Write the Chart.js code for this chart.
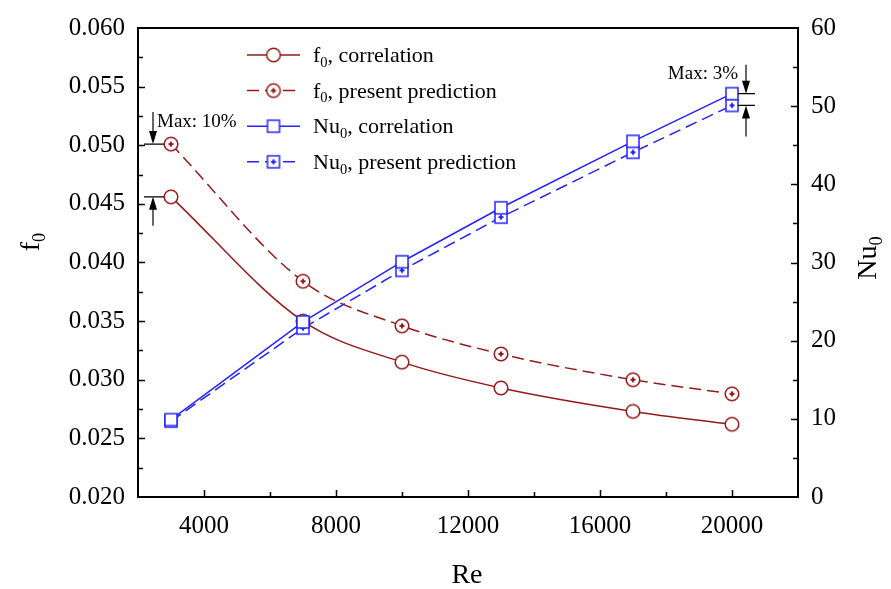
<!DOCTYPE html>
<html>
<head>
<meta charset="utf-8">
<script src="https://cdn.jsdelivr.net/npm/chart.js@4.4.1/dist/chart.umd.min.js"></script>
<style>
  html, body { margin: 0; padding: 0; background: #fff; }
  #wrap { width: 891px; height: 589px; }
</style>
</head>
<body>
<div id="wrap"><canvas id="chart" width="891" height="589"></canvas></div>
<script>
// Reynolds numbers of the test points
const reynolds = [3000, 7000, 10000, 13000, 17000, 20000];
// friction factor
const fCorrelation = [0.0456, 0.0350, 0.0315, 0.0293, 0.0273, 0.0262];
const fPrediction  = [0.0501, 0.0384, 0.0346, 0.0322, 0.0300, 0.0288];
// Nusselt number
const nuCorrelation = [9.9, 22.4, 30.1, 37.0, 45.5, 51.6];
const nuPrediction  = [9.7, 21.6, 29.0, 35.8, 44.1, 50.1];

// labelled ticks
const reTicks = [4000, 8000, 12000, 16000, 20000];
const fTicks  = [0.020, 0.025, 0.030, 0.035, 0.040, 0.045, 0.050, 0.055, 0.060];
const nuTicks = [0, 10, 20, 30, 40, 50, 60];

const RED = '#961a1a';
const BLUE = '#2424ff';
const SERIF = '"Liberation Serif", "Times New Roman", serif';

// point markers drawn once on small canvases
function makeMarker(shape, color, plus) {
  const c = document.createElement('canvas');
  c.width = 18; c.height = 18;
  const g = c.getContext('2d');
  g.strokeStyle = color;
  g.fillStyle = '#fff';
  g.lineWidth = 1.5;
  if (shape === 'circle') {
    g.beginPath(); g.arc(9, 9, 6.8, 0, Math.PI * 2); g.fill(); g.stroke();
  } else {
    g.fillRect(3, 3, 12, 12); g.strokeRect(3, 3, 12, 12);
  }
  if (plus) {
    g.fillStyle = color;
    g.fillRect(6.5, 8, 5, 2);
    g.fillRect(8, 6.5, 2, 5);
  }
  return c;
}
const mkFCorr = makeMarker('circle', RED, false);
const mkFPred = makeMarker('circle', RED, true);
const mkNuCorr = makeMarker('square', BLUE, false);
const mkNuPred = makeMarker('square', BLUE, true);

const toPoints = ys => reynolds.map((x, i) => ({ x: x, y: ys[i] }));

// text with a subscript part, e.g. [['f'], ['0', true], [', correlation']]
function richWidth(ctx, parts, size) {
  let w = 0;
  parts.forEach(p => {
    ctx.font = (p[1] ? size * 0.66 : size) + 'px ' + SERIF;
    w += ctx.measureText(p[0]).width;
  });
  return w;
}
function drawRich(ctx, parts, x, y, size) {
  let cx = x;
  parts.forEach(p => {
    const s = p[1] ? size * 0.66 : size;
    ctx.font = s + 'px ' + SERIF;
    ctx.fillText(p[0], cx, p[1] ? y + size * 0.22 : y);
    cx += ctx.measureText(p[0]).width;
  });
}

function arrow(ctx, x, yFrom, yTo) {
  const dir = Math.sign(yTo - yFrom);
  ctx.beginPath();
  ctx.moveTo(x, yFrom);
  ctx.lineTo(x, yTo - dir * 8);
  ctx.stroke();
  ctx.beginPath();
  ctx.moveTo(x, yTo);
  ctx.lineTo(x - 4, yTo - dir * 13);
  ctx.lineTo(x + 4, yTo - dir * 13);
  ctx.closePath();
  ctx.fill();
}

const legendRows = [
  { parts: [['f'], ['0', true], [', correlation']], color: RED, dash: [], marker: mkFCorr },
  { parts: [['f'], ['0', true], [', present prediction']], color: RED, dash: [12, 6], marker: mkFPred },
  { parts: [['Nu'], ['0', true], [', correlation']], color: BLUE, dash: [], marker: mkNuCorr },
  { parts: [['Nu'], ['0', true], [', present prediction']], color: BLUE, dash: [12, 6], marker: mkNuPred }
];

const decorPlugin = {
  id: 'decor',
  beforeDatasetsDraw(chart) {
    const ctx = chart.ctx;
    const a = chart.chartArea;
    const sx = chart.scales.x, sy = chart.scales.y, sy1 = chart.scales.y1;
    ctx.save();
    ctx.strokeStyle = '#000';
    ctx.lineWidth = 1.5;
    ctx.beginPath();
    // bottom axis ticks, pointing inward
    for (let v = 4000; v <= 20000; v += 2000) {
      const px = Math.round(sx.getPixelForValue(v)) + 0.5;
      const len = reTicks.includes(v) ? 7 : 5;
      ctx.moveTo(px, a.bottom); ctx.lineTo(px, a.bottom - len);
    }
    // left axis ticks
    for (let i = 1; i < fTicks.length * 2 - 2; i++) {
      const v = fTicks[0] + i * 0.0025;
      const py = Math.round(sy.getPixelForValue(v)) + 0.5;
      const len = i % 2 === 0 ? 7 : 5;
      ctx.moveTo(a.left, py); ctx.lineTo(a.left + len, py);
    }
    // right axis ticks
    for (let i = 1; i < nuTicks.length * 2 - 2; i++) {
      const v = i * 5;
      const py = Math.round(sy1.getPixelForValue(v)) + 0.5;
      const len = i % 2 === 0 ? 7 : 5;
      ctx.moveTo(a.right, py); ctx.lineTo(a.right - len, py);
    }
    ctx.stroke();
    ctx.restore();
  },
  afterDraw(chart) {
    const ctx = chart.ctx;
    const a = chart.chartArea;
    const sx = chart.scales.x, sy = chart.scales.y, sy1 = chart.scales.y1;
    ctx.save();

    // plot frame
    ctx.strokeStyle = '#000';
    ctx.lineWidth = 2;
    ctx.strokeRect(a.left, a.top, a.right - a.left, a.bottom - a.top);

    // axis titles
    ctx.fillStyle = '#000';
    ctx.textBaseline = 'alphabetic';
    const tSize = 28;
    const fTitle = [['f'], ['0', true]];
    const nuTitle = [['Nu'], ['0', true]];
    ctx.save();
    ctx.translate(39, 0);
    ctx.rotate(-Math.PI / 2);
    drawRich(ctx, fTitle, -242 - richWidth(ctx, fTitle, tSize) / 2, 0, tSize);
    ctx.restore();
    ctx.save();
    ctx.translate(876, 0);
    ctx.rotate(-Math.PI / 2);
    drawRich(ctx, nuTitle, -258 - richWidth(ctx, nuTitle, tSize) / 2, 0, tSize);
    ctx.restore();
    ctx.font = tSize + 'px ' + SERIF;
    ctx.textAlign = 'center';
    ctx.fillText('Re', 467, 583);
    ctx.textAlign = 'left';

    // legend
    legendRows.forEach((r, i) => {
      const y = 55 + i * 35.6;
      ctx.strokeStyle = r.color;
      ctx.lineWidth = 1.5;
      ctx.setLineDash(r.dash);
      ctx.beginPath();
      ctx.moveTo(247, y); ctx.lineTo(300, y);
      ctx.stroke();
      ctx.setLineDash([]);
      ctx.drawImage(r.marker, 273.5 - 9, y - 9);
      ctx.fillStyle = '#000';
      drawRich(ctx, r.parts, 313, y + 7, 22);
    });

    // deviation markers
    ctx.strokeStyle = '#000';
    ctx.fillStyle = '#000';
    ctx.lineWidth = 1.2;
    ctx.font = '19px ' + SERIF;
    ctx.textBaseline = 'middle';

    const xl = sx.getPixelForValue(reynolds[0]);
    const yTop = sy.getPixelForValue(fPrediction[0]);
    const yLow = sy.getPixelForValue(fCorrelation[0]);
    ctx.beginPath();
    ctx.moveTo(xl - 27, yTop); ctx.lineTo(xl - 7, yTop);
    ctx.moveTo(xl - 27, yLow); ctx.lineTo(xl - 7, yLow);
    ctx.stroke();
    arrow(ctx, xl - 18, yTop - 32, yTop);
    arrow(ctx, xl - 18, yLow + 29, yLow);
    ctx.textAlign = 'left';
    ctx.fillText('Max: 10%', xl - 14, yTop - 22);

    const last = reynolds.length - 1;
    const xr = sx.getPixelForValue(reynolds[last]);
    const nTop = sy1.getPixelForValue(nuCorrelation[last]);
    const nLow = sy1.getPixelForValue(nuPrediction[last]);
    ctx.beginPath();
    ctx.moveTo(xr + 6, nTop); ctx.lineTo(xr + 23, nTop);
    ctx.moveTo(xr + 6, nLow); ctx.lineTo(xr + 23, nLow);
    ctx.stroke();
    arrow(ctx, xr + 14, nTop - 29, nTop);
    arrow(ctx, xr + 14, nLow + 31, nLow);
    ctx.textAlign = 'right';
    ctx.fillText('Max: 3%', xr + 6, nTop - 20);

    ctx.restore();
  }
};

const tickFont = { family: SERIF, size: 25 };

new Chart(document.getElementById('chart').getContext('2d'), {
  type: 'line',
  data: {
    datasets: [
      { label: 'Nu0, correlation', data: toPoints(nuCorrelation), yAxisID: 'y1',
        borderColor: BLUE, borderWidth: 1.5, pointStyle: mkNuCorr, pointRadius: 6,
        tension: 0, fill: false, order: 1 },
      { label: 'Nu0, present prediction', data: toPoints(nuPrediction), yAxisID: 'y1',
        borderColor: BLUE, borderWidth: 1.5, borderDash: [12, 6], pointStyle: mkNuPred, pointRadius: 6,
        tension: 0, fill: false, order: 2 },
      { label: 'f0, present prediction', data: toPoints(fPrediction), yAxisID: 'y',
        borderColor: RED, borderWidth: 1.5, borderDash: [12, 6], pointStyle: mkFPred, pointRadius: 6,
        cubicInterpolationMode: 'monotone', fill: false, order: 3 },
      { label: 'f0, correlation', data: toPoints(fCorrelation), yAxisID: 'y',
        borderColor: RED, borderWidth: 1.5, pointStyle: mkFCorr, pointRadius: 6,
        cubicInterpolationMode: 'monotone', fill: false, order: 4 }
    ]
  },
  options: {
    responsive: false,
    animation: false,
    devicePixelRatio: 1,
    layout: { padding: { top: 21, left: 0, right: 0, bottom: 0 } },
    plugins: { legend: { display: false }, tooltip: { enabled: false } },
    scales: {
      x: {
        type: 'linear', min: 2000, max: 22000,
        grid: { display: false, drawTicks: false },
        border: { display: false },
        ticks: {
          stepSize: 2000, padding: 14, color: '#000', font: tickFont, maxRotation: 0, autoSkip: false,
          callback: v => reTicks.includes(v) ? String(v) : ''
        },
        afterFit: s => { s.height = 92; }
      },
      y: {
        position: 'left', min: fTicks[0], max: fTicks[fTicks.length - 1],
        grid: { display: false, drawTicks: false },
        border: { display: false },
        ticks: { stepSize: 0.005, padding: 13, color: '#000', font: tickFont,
          callback: v => v.toFixed(3) },
        afterFit: s => { s.width = 138; }
      },
      y1: {
        position: 'right', min: nuTicks[0], max: nuTicks[nuTicks.length - 1],
        grid: { display: false, drawTicks: false },
        border: { display: false },
        ticks: { stepSize: 10, padding: 13, color: '#000', font: tickFont,
          callback: v => String(v) },
        afterFit: s => { s.width = 93; }
      }
    }
  },
  plugins: [decorPlugin]
});
</script>
</body>
</html>
